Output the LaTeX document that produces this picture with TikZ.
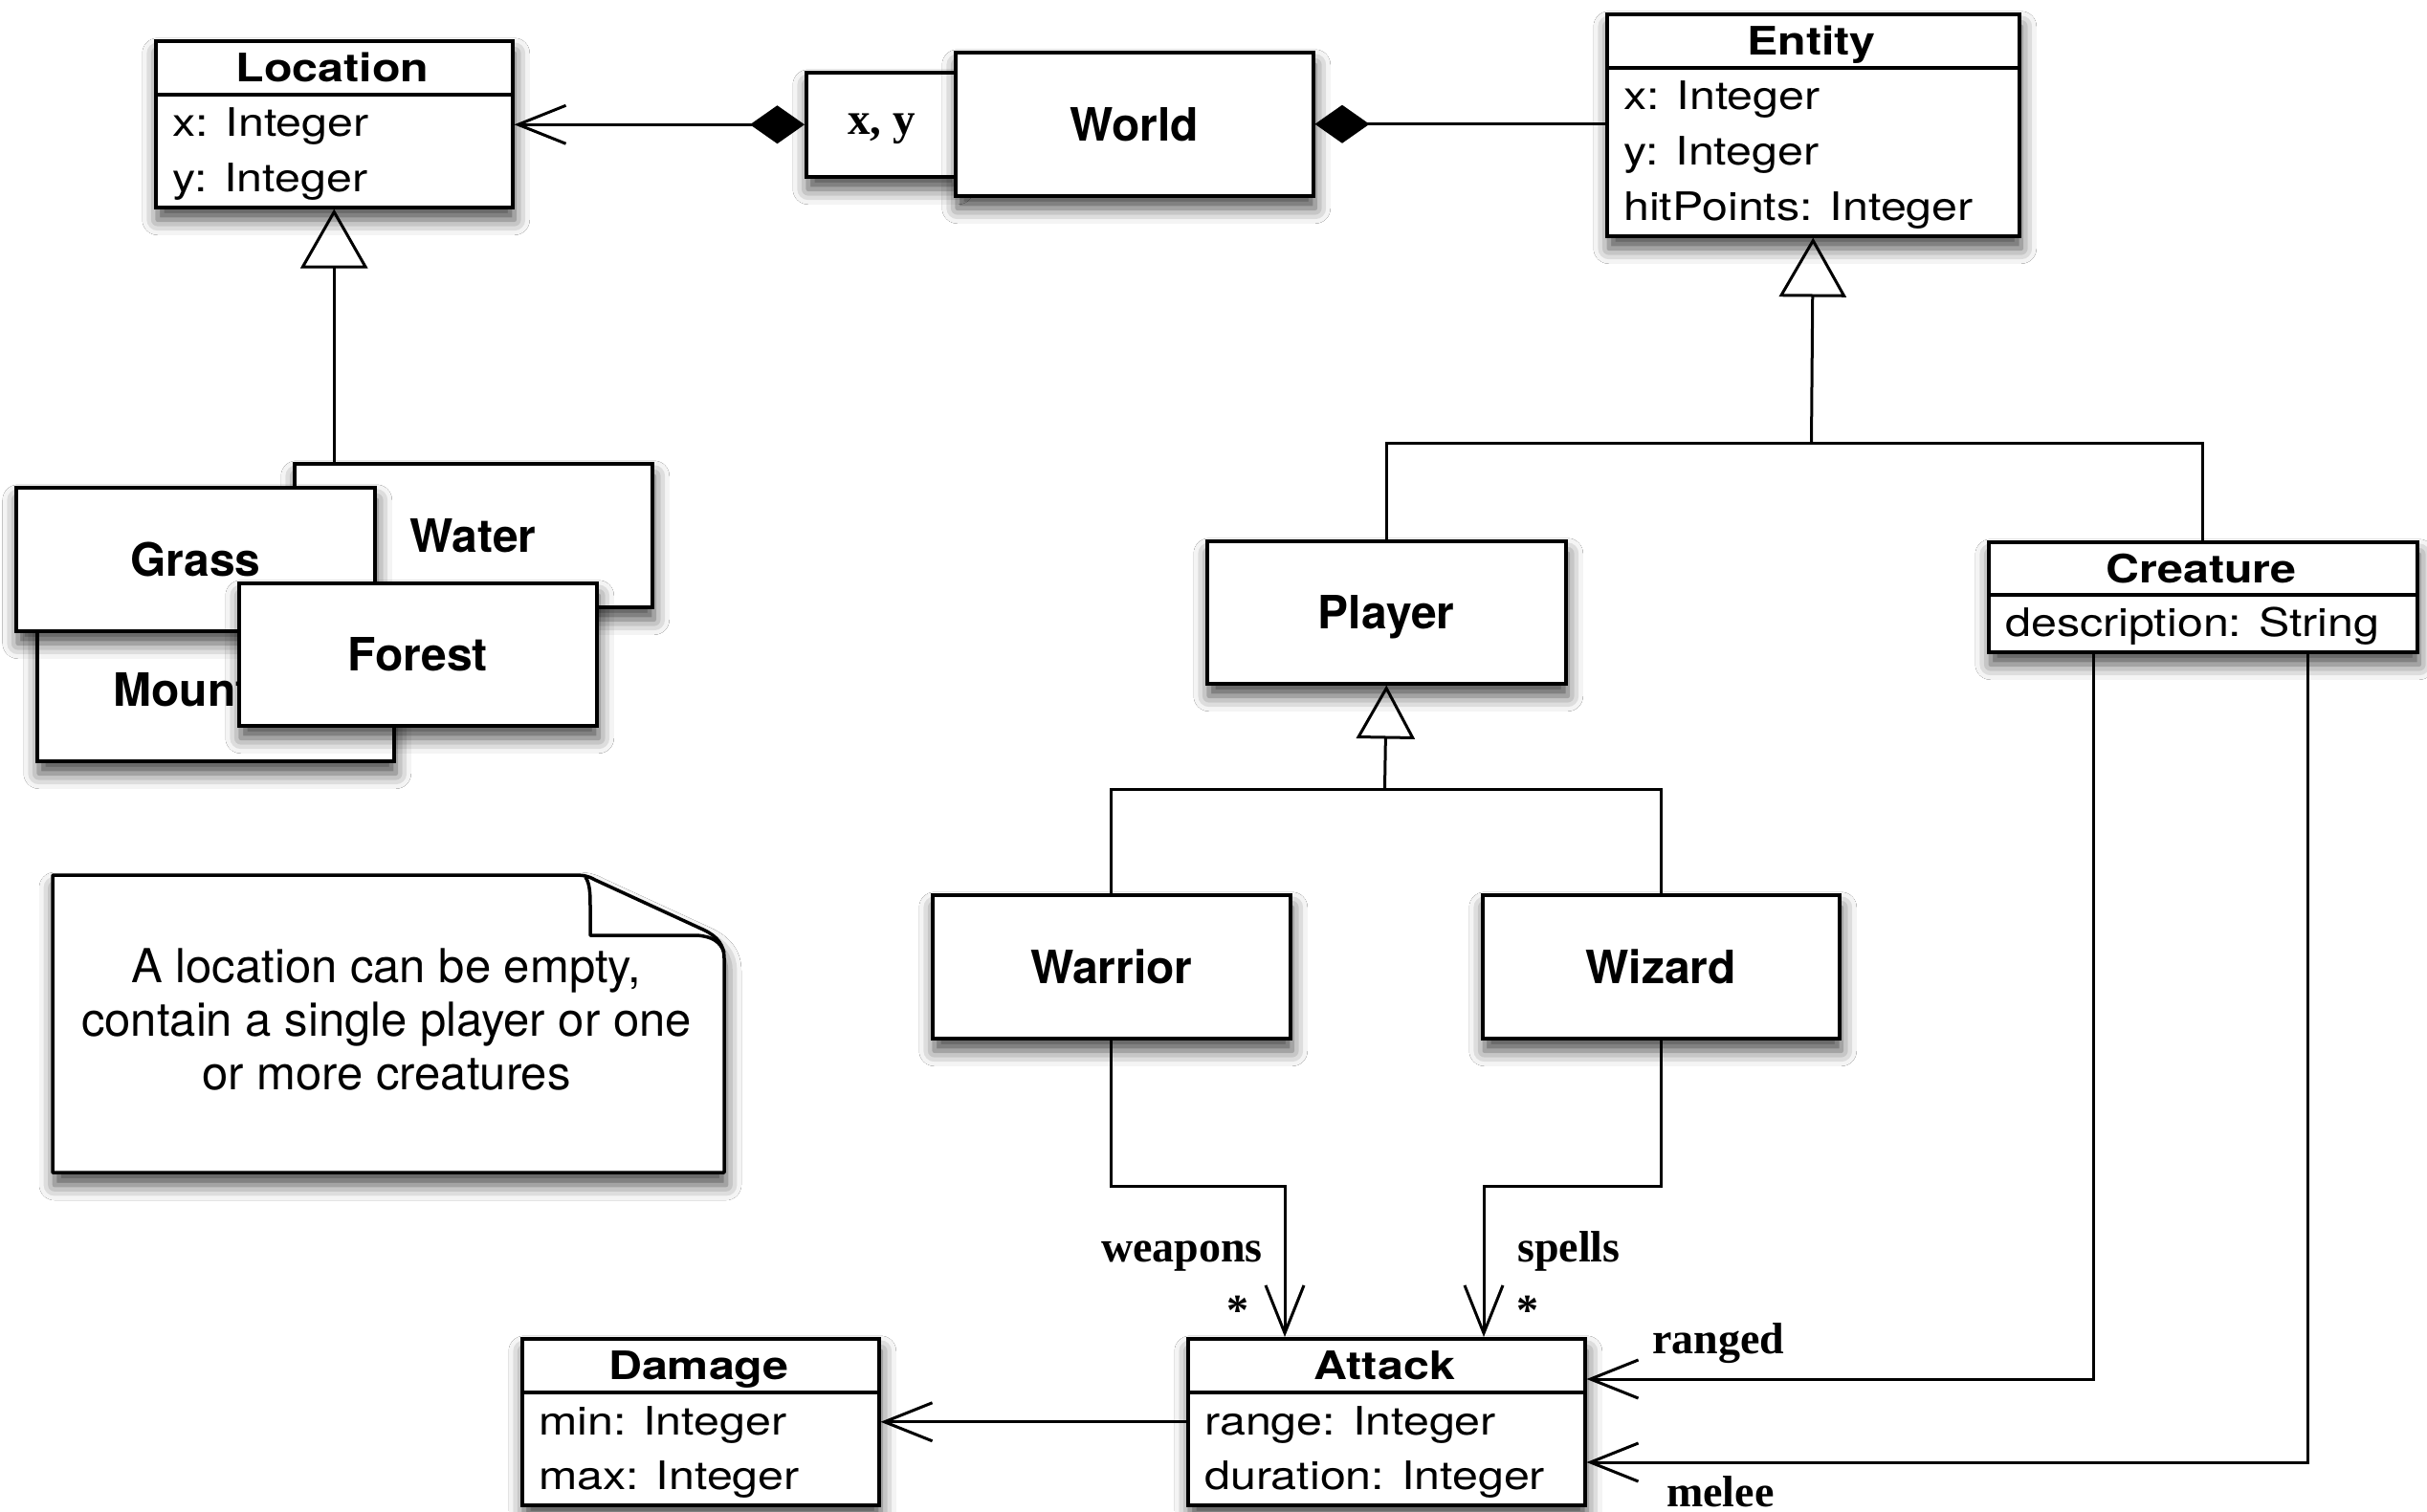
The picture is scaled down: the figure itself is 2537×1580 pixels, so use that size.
\documentclass[tikz,border=0pt]{standalone}
\usepackage{fontspec}
\setmainfont{TeX Gyre Heros}
\newfontfamily\cmpfont[FakeStretch=1.18]{TeX Gyre Heros}
\newfontfamily\lblfont{Liberation Serif}
\usetikzlibrary{arrows.meta,shadows.blur}
\begin{document}
\begin{tikzpicture}[x=1pt,y=-1pt,
  softshadow/.style={blur shadow={shadow xshift=2pt, shadow yshift=-13pt, shadow blur radius=16pt, shadow opacity=72}},
  box/.style={draw=black, line width=3.5pt, fill=white, rectangle, inner sep=0pt, anchor=north west, softshadow},
  simplebox/.style={box, font=\fontsize{48}{57}\selectfont\bfseries, text height=35pt, text depth=0pt},
  sep/.style={line width=3.5pt},
  cmptitle/.style={font=\cmpfont\bfseries\fontsize{41}{49}\selectfont, anchor=base, inner sep=0pt},
  cmpattr/.style={font=\cmpfont\fontsize{41}{49}\selectfont, anchor=base west, inner sep=0pt},
  lbl/.style={font=\lblfont\bfseries\fontsize{46}{55}\selectfont, inner sep=0pt},
  conn/.style={line width=3pt, draw=black},
  assoc/.style={conn, -{Straight Barb[length=50pt, width=40pt]}},
]
\fill[white] (0,0) rectangle (2537,1580);
\useasboundingbox (0,0) rectangle (2537,1580);

% ---- Location class
\node[box, minimum width=373pt, minimum height=174pt] (loc) at (161,41) {};
\draw[sep] (loc.north west) ++(0,58) -- ++(373,0);
\node[cmptitle] (loct) at (347.5,85) {Location};
\node[cmpattr] (loca1) at (180,142) {x: Integer};
\node[cmpattr] (loca2) at (180,200) {y: Integer};

% ---- World with its qualifier
\node[box, minimum width=157pt, minimum height=109pt,
      font=\lblfont\bfseries\fontsize{47}{56}\selectfont, text height=21pt, text depth=0pt] (xy) at (841,74) {x, y};
\node[simplebox, minimum width=374pt, minimum height=150pt] (world) at (997,53) {World};

% ---- Entity class
\node[box, minimum width=431pt, minimum height=232pt] (entity) at (1678,13) {};
\draw[sep] (entity.north west) ++(0,58) -- ++(431,0);
\node[cmptitle] (entt) at (1893.5,57) {Entity};
\node[cmpattr] (enta1) at (1697,114) {x: Integer};
\node[cmpattr] (enta2) at (1697,172) {y: Integer};
\node[cmpattr] (enta3) at (1697,230) {hitPoints: Integer};

% ---- terrain kinds
\node[simplebox, minimum width=374pt, minimum height=150pt] (water) at (306,483) {Water};
\node[simplebox, minimum width=373pt, minimum height=150pt] (mountain) at (37,644) {Mountain};
\node[simplebox, minimum width=375pt, minimum height=150pt] (grass) at (15,508) {Grass};
\node[simplebox, minimum width=374pt, minimum height=149pt] (forest) at (248,608) {Forest};

% ---- Player and Creature
\node[simplebox, minimum width=375pt, minimum height=149pt] (player) at (1260,564) {Player};
\node[box, minimum width=448pt, minimum height=115pt] (creature) at (2077,565) {};
\draw[sep] (creature.north west) ++(0,57) -- ++(448,0);
\node[cmptitle] (crt) at (2301,609) {Creature};
\node[cmpattr] (cra1) at (2096,665) {description: String};

\node[simplebox, minimum width=374pt, minimum height=150pt] (warrior) at (973,934) {Warrior};
\node[simplebox, minimum width=373pt, minimum height=150pt] (wizard) at (1548,934) {Wizard};

% ---- Damage and Attack
\node[box, minimum width=373pt, minimum height=174pt] (damage) at (544,1398) {};
\draw[sep] (damage.north west) ++(0,58) -- ++(373,0);
\node[cmptitle] (dmt) at (730.5,1442) {Damage};
\node[cmpattr] (dma1) at (563,1500) {min: Integer};
\node[cmpattr] (dma2) at (563,1557) {max: Integer};

\node[box, minimum width=415pt, minimum height=174pt] (attack) at (1240,1398) {};
\draw[sep] (attack.north west) ++(0,58) -- ++(415,0);
\node[cmptitle] (att) at (1447.5,1442) {Attack};
\node[cmpattr] (ata1) at (1259,1500) {range: Integer};
\node[cmpattr] (ata2) at (1259,1557) {duration: Integer};

% ---- note with folded corner
\draw[line width=3.5pt, fill=white, line join=round, softshadow]
  (55,915) -- (600,915) .. controls (610,915) and (615,916) .. (622,920) -- (735,972)
  .. controls (750,979) and (757,988) .. (757,1002) -- (757,1226) -- (55,1226) -- cycle;
\draw[line width=3.5pt, line join=round]
  (612,917) .. controls (617,925) and (617,935) .. (617,952) -- (617,978) -- (728,978)
  .. controls (745,979) and (753,985) .. (757,996);
\node[font=\fontsize{49}{56}\selectfont, align=center, anchor=north, inner sep=0pt] (notetext) at (404,992)
  {A location can be empty,\\contain a single player or one\\or more creatures};

% ---- composition
\draw[conn, {Diamond[length=57pt, width=40pt]}-{Straight Barb[length=50pt, width=40pt]}]
  (xy.west) -- (xy.west -| loc.east);
\draw[conn, {Diamond[length=57pt, width=40pt]}-] (world.east) -- (world.east -| entity.west);

% ---- generalizations
\draw[conn, -{Triangle[open, length=62pt, width=70pt]}] (loc.south |- water.north) -- (loc.south);
\coordinate (ej) at (1893.5,463);
\draw[conn] (player.north) |- (ej) -| (creature.north);
\draw[conn, -{Triangle[open, length=62pt, width=70pt]}] (ej) -- (entity.south);
\coordinate (pj) at (1447.5,825);
\draw[conn] (warrior.north) |- (pj) -| (wizard.north);
\draw[conn, -{Triangle[open, length=56pt, width=61pt]}] (pj) -- (player.south);

% ---- associations
\coordinate (wk) at (1343,1240);
\draw[assoc] (warrior.south) |- (wk) -- (wk |- attack.north);
\coordinate (zk) at (1551,1240);
\draw[assoc] (wizard.south) |- (zk) -- (zk |- attack.north);
\draw[assoc] (attack.west) -- (damage.east);
\coordinate (rk) at (2188,1442);
\draw[assoc] (rk |- creature.south) -- (rk) -- (rk -| attack.east);
\coordinate (mk) at (2412,1529);
\draw[assoc] (mk |- creature.south) -- (mk) -- (mk -| attack.east);

% ---- role names and multiplicities
\node[lbl, anchor=base east] (lw) at (1320,1319) {weapons};
\node[lbl, anchor=base west] (ls) at (1586,1319) {spells};
\node[lbl, anchor=base] (mw) at (1294,1385) {*};
\node[lbl, anchor=base] (ms) at (1597,1385) {*};
\node[lbl, anchor=base west] (lr) at (1727,1415) {ranged};
\node[lbl, anchor=base west] (lm) at (1742,1575) {melee};
\end{tikzpicture}
\end{document}
